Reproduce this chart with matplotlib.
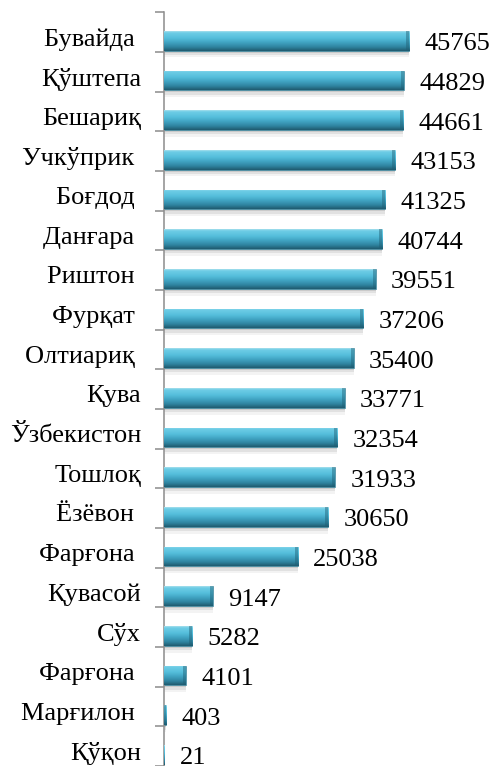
import matplotlib
matplotlib.use("Agg")
import matplotlib.pyplot as plt
import numpy as np
from matplotlib.colors import LinearSegmentedColormap

districts = [
    "Бувайда ", "Қўштепа", "Бешариқ", "Учкўприк ", "Боғдод ", "Данғара ",
    "Риштон ", "Фурқат ", "Олтиариқ ", "Қува", "Ўзбекистон", "Тошлоқ",
    "Ёзёвон ", "Фарғона ", "Қувасой", "Сўх", "Фарғона ", "Марғилон ", "Қўқон",
]
values = [
    45765, 44829, 44661, 43153, 41325, 40744, 39551, 37206, 35400, 33771,
    32354, 31933, 30650, 25038, 9147, 5282, 4101, 403, 21,
]

plt.rcParams["font.family"] = ["Liberation Serif", "DejaVu Serif"]

fig = plt.figure(figsize=(4.97, 7.66), dpi=100)
ax = fig.add_axes([0.33, 0.0, 0.67, 0.984])

# vertical gradient for the glossy "cylinder" look
bar_cmap = LinearSegmentedColormap.from_list(
    "glossy",
    [(0.0, "#a6deec"), (0.08, "#6ecde6"), (0.35, "#55bedb"),
     (0.55, "#42a6c5"), (0.8, "#2f84a0"), (1.0, "#1f5b6f")],
)
grad = np.linspace(0, 1, 64).reshape(-1, 1)

n = len(values)
pos = np.arange(n)
bar_h = 0.5
bar_y = pos + 0.22

# soft shadow under each bar
for dy, extra, a in [(0.12, 0.1, 0.08), (0.08, 0.06, 0.12), (0.04, 0.02, 0.18)]:
    ax.barh(bar_y + dy, values, height=bar_h + extra, left=0, color="#666666",
            alpha=a, zorder=1, linewidth=0)

bars = ax.barh(bar_y, values, height=bar_h, color="#4ab4d2", zorder=2,
               edgecolor="#2b6e84", linewidth=0.4)

for rect, v, y in zip(bars, values, bar_y):
    im = ax.imshow(grad, cmap=bar_cmap, aspect="auto", origin="upper",
                   extent=(0, v, y + bar_h / 2, y - bar_h / 2), zorder=3)
    im.set_clip_path(rect)
    # darker bevelled end cap
    cap = min(v, 550)
    ax.barh(y, cap, height=bar_h, left=v - cap, color="#1f5f74", alpha=0.45,
            zorder=4, linewidth=0)

for v, y in zip(values, bar_y):
    ax.annotate(str(v), (v, y), xytext=(11, -2.5), textcoords="offset points",
                ha="left", va="center", fontsize=19, color="black")

ax.set_xlim(0, 62200)
ax.set_ylim(n - 0.5, -0.5)

# category labels, tick marks between categories
ax.set_yticks(pos + 0.12)
ax.set_yticklabels(districts, fontsize=19)
ax.tick_params(axis="y", which="major", length=0, pad=16.5)
ax.set_yticks(np.arange(n + 1) - 0.5, minor=True)
ax.tick_params(axis="y", which="minor", length=6.5, width=1.1, color="#8c8c8c",
               direction="out")
ax.set_xticks([])

for side in ["top", "right", "bottom"]:
    ax.spines[side].set_visible(False)
ax.spines["left"].set_color("#8c8c8c")
ax.spines["left"].set_linewidth(1.1)

fig.savefig("out.png", dpi=100)
